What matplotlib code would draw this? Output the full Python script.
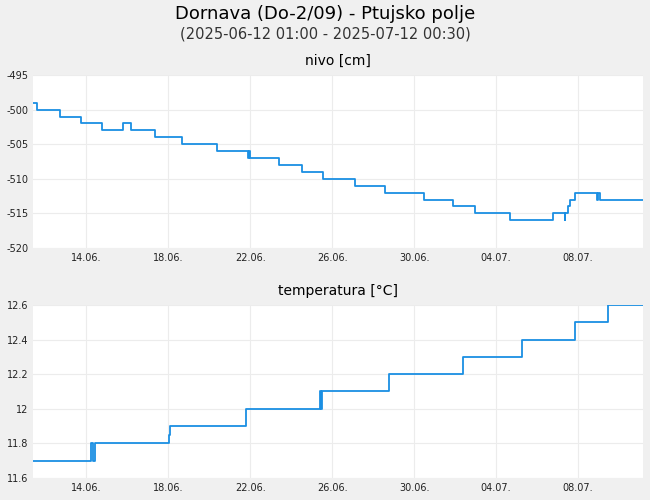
import matplotlib
matplotlib.use("Agg")
import matplotlib.pyplot as plt

# days since 2025-06-12 01:00
lvl_t = [0, 0.20, 1.33, 2.36, 3.39, 4.43, 4.82, 6.00, 7.33, 9.05, 10.58, 10.62, 10.66, 12.10, 13.23, 14.26, 15.84,
         17.31, 19.23, 20.66, 21.74, 23.46, 25.58, 26.17, 26.20, 26.30, 26.40, 26.50, 26.66, 27.74, 27.80, 27.89, 30.0]
lvl_v = [-499, -500, -501, -502, -503, -502, -503, -504, -505, -506, -507, -506, -507, -508, -509, -510, -511,
         -512, -513, -514, -515, -516, -515, -516, -515, -514, -513, -513, -512, -513, -512, -513, -513]
tmp_t = [0, 2.85, 2.95, 3.05, 3.10, 6.69, 6.74, 10.48, 10.50, 14.12, 14.17, 14.22, 14.26, 17.51, 21.15, 24.05, 26.66, 28.28, 30.0]
tmp_v = [11.7, 11.8, 11.7, 11.8, 11.8, 11.85, 11.9, 11.95, 12.0, 12.1, 12.0, 12.1, 12.1, 12.2, 12.3, 12.4, 12.5, 12.6, 12.6]
tick_pos = [2.63, 6.66, 10.69, 14.72, 18.75, 22.78, 26.81]
tick_lab = ["14.06.", "18.06.", "22.06.", "26.06.", "30.06.", "04.07.", "08.07."]

fig = plt.figure(figsize=(6.5, 5), dpi=100, facecolor="#f0f0f0")
fig.text(0.5, 0.972, "Dornava (Do-2/09) - Ptujsko polje", ha="center", va="center", fontsize=13)
fig.text(0.5, 0.932, "(2025-06-12 01:00 - 2025-07-12 00:30)", ha="center", va="center", fontsize=10.5, color="#333")

def setup(ax, title, yt, ylab, ylim):
    ax.set_facecolor("white")
    for s in ax.spines.values():
        s.set_visible(False)
    ax.set_xlim(0, 30)
    ax.set_ylim(*ylim)
    ax.set_xticks(tick_pos)
    ax.set_xticklabels(tick_lab)
    ax.set_yticks(yt)
    ax.set_yticklabels(ylab)
    ax.tick_params(length=0, labelsize=7, colors="#222")
    ax.grid(True, color="#ececec", lw=0.8)
    ax.set_title(title, fontsize=10, pad=7)

ax1 = fig.add_axes([0.0508, 0.504, 0.938, 0.346])
setup(ax1, "nivo [cm]", [-495, -500, -505, -510, -515, -520], ["-495", "-500", "-505", "-510", "-515", "-520"], (-520, -495))
ax1.plot(lvl_t, lvl_v, drawstyle="steps-post", color="#1a8fe3", lw=1.3)

ax2 = fig.add_axes([0.0508, 0.044, 0.938, 0.346])
setup(ax2, "temperatura [°C]", [11.6, 11.8, 12.0, 12.2, 12.4, 12.6], ["11.6", "11.8", "12", "12.2", "12.4", "12.6"], (11.6, 12.6))
ax2.plot(tmp_t, tmp_v, drawstyle="steps-post", color="#1a8fe3", lw=1.3)

fig.savefig("out.png", dpi=100, facecolor=fig.get_facecolor())
